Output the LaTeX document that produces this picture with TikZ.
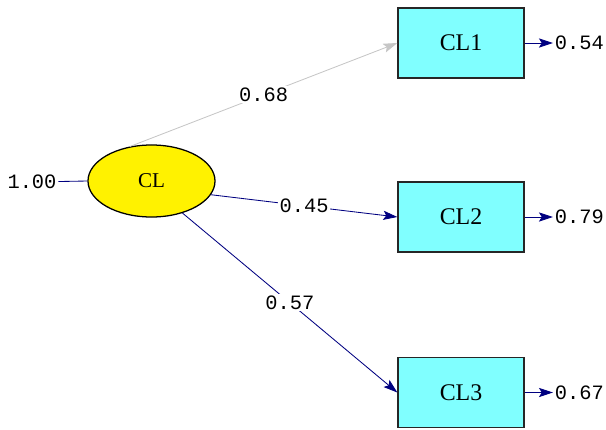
\documentclass[tikz,border=0pt]{standalone}
\usepackage{fontspec}
\setmainfont{Liberation Serif}
\setmonofont{Liberation Mono}
\usepackage{tikz}
\usetikzlibrary{arrows}
\usetikzlibrary{arrows.meta,shapes.geometric}
\definecolor{pathblue}{RGB}{0,0,128}
\definecolor{boxcyan}{RGB}{128,255,255}

\begin{document}
\begin{tikzpicture}[x=0.025cm,y=-0.025cm]
                \useasboundingbox (0,0) rectangle (606,429);
                \begin{scope}[>={Stealth[length=10pt,width=6.5pt,inset=2pt]},line width=0.6pt,
                obs node/.style={rectangle,fill=boxcyan,draw=black!85,line width=0.9pt,minimum width=3.15cm,minimum height=1.75cm,font=\fontsize{17}{20}\selectfont},
                lat node/.style={ellipse,fill=yellow,draw=black,line width=0.9pt,inner sep=0pt,minimum width=3.175cm,minimum height=1.8cm,font=\fontsize{15}{18}\selectfont},
                coef/.style={font=\ttfamily\fontsize{14.5}{17}\selectfont,inner sep=1pt}]
                \node[lat node] (cl) at (151.5,181) {CL};
                \node[obs node] (cl1) at (461,43) {CL1};
                \node[obs node] (cl2) at (461,217) {CL2};
                \node[obs node] (cl3) at (461,392.5) {CL3};
                \node[coef] (var) at (32,182) {1.00};
                \node[coef,anchor=west] (e1) at (553,43) {0.54};
                \node[coef,anchor=west] (e2) at (553,217) {0.79};
                \node[coef,anchor=west] (e3) at (553,392.5) {0.67};
                \path[every node/.style={coef,fill=white}]
                (cl.122) edge[->,draw=gray!45] node {0.68} (cl1.west)
                (cl.-13) edge[->,draw=pathblue] node {0.45} (cl2.west)
                (cl.-46) edge[->,draw=pathblue] node {0.57} (cl3.west);
                \draw[pathblue] (var) -- (cl.west);
                \draw[->,pathblue] (cl1.east) -- (e1.west);
                \draw[->,pathblue] (cl2.east) -- (e2.west);
                \draw[->,pathblue] (cl3.east) -- (e3.west);
                \end{scope}
            \end{tikzpicture}
\end{document}
